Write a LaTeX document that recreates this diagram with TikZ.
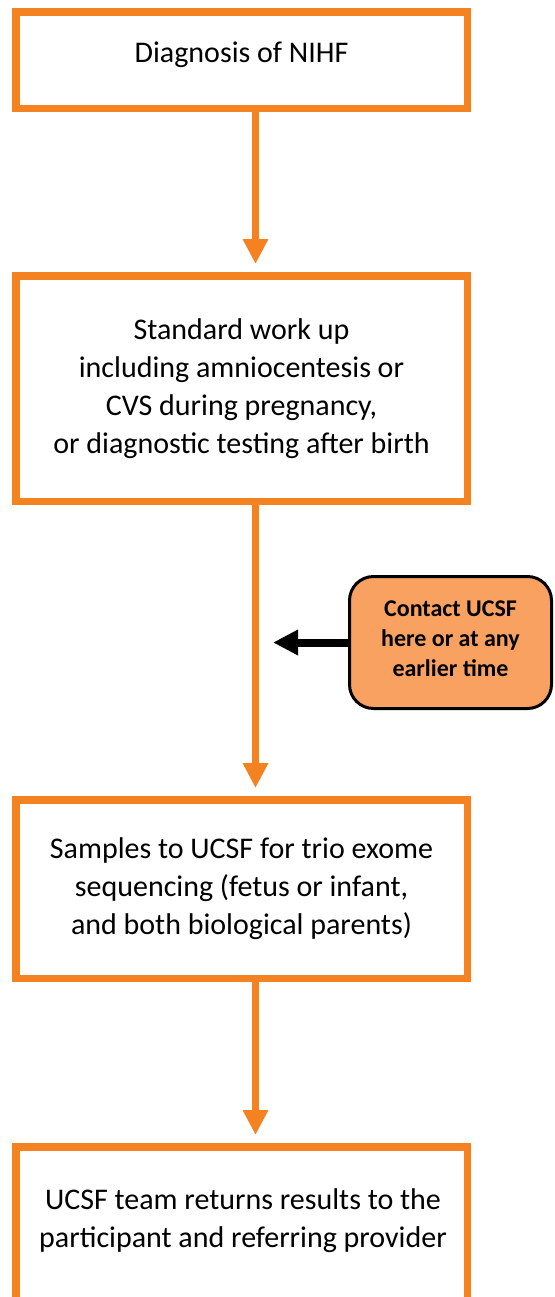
\documentclass[tikz,border=0pt]{standalone}
\usepackage{fontspec}
\setmainfont{Carlito}
\usetikzlibrary{arrows.meta}
\definecolor{boxorange}{RGB}{245,130,32}
\definecolor{notefill}{RGB}{249,161,96}

\begin{document}
\begin{tikzpicture}[x=0.5pt,y=-0.5pt,
  box/.style={draw=boxorange, line width=3.75pt, minimum width=225.75pt, inner sep=0pt,
    align=center, font=\fontsize{15}{19}\selectfont},
  boxtext/.style={align=center, inner sep=0pt, font=\fontsize{15}{19}\selectfont},
  flow/.style={draw=boxorange, line width=3.5pt, shorten >=4pt, -{Triangle[width=12pt,length=12.5pt]}},
  note/.style={draw=black, line width=1.5pt, fill=notefill, rounded corners=12pt,
    minimum width=101pt, minimum height=66pt, align=center, font=\fontsize{12}{15}\selectfont\bfseries},
  pointer/.style={draw=black, line width=4pt, -{Triangle[width=12pt,length=12.5pt]}}]
\path[use as bounding box, clip] (0,0) rectangle (555,1297);

% the four steps
\node[box, minimum height=48.25pt, text height=12pt, text depth=10pt] (diag) at (241.5,60) {Diagnosis of NIHF};
\node[box, minimum height=112.75pt] (workup) at (241.5,388.5) {Standard work up\\including amniocentesis or\\CVS during pregnancy,\\or diagnostic testing after birth};
\node[box, minimum height=89.25pt] (samples) at (241.5,889) {Samples to UCSF for trio exome\\sequencing (fetus or infant,\\and both biological parents)};
\node[box, minimum height=92pt, anchor=north] (results) at (241.5,1143) {};
\node[boxtext] (resultstext) at (243,1221) {UCSF team returns results to the\\participant and referring provider};

% side note
\node[note] (contact) at (450.5,642.5) {Contact UCSF\\here or at any\\earlier time\vspace{4pt}};
\coordinate (contacttip) at (273,642.5);

\draw[flow] ([xshift=7pt]diag.south) -- ([xshift=7pt]workup.north);
\draw[flow] ([xshift=7pt]workup.south) -- ([xshift=7pt]samples.north);
\draw[flow] ([xshift=7pt]samples.south) -- ([xshift=7pt]results.north);
\draw[pointer] (contact) -- (contacttip);
\end{tikzpicture}
\end{document}
